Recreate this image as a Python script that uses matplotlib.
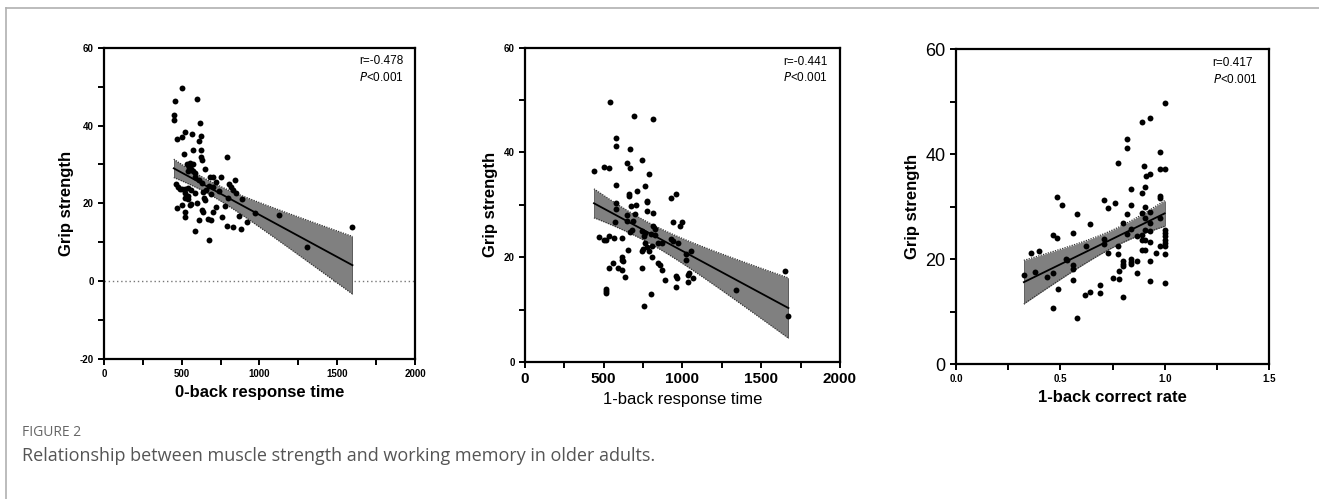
import numpy as np
import matplotlib
matplotlib.use("Agg")
import matplotlib.pyplot as plt
from matplotlib.lines import Line2D
from matplotlib.ticker import MultipleLocator, FormatStrFormatter

plt.rcParams['font.family'] = ['Liberation Sans', 'DejaVu Sans']
plt.rcParams['axes.unicode_minus'] = False

# panel 1: 0-back response time vs grip strength
rt0 = [449, 449, 460, 503, 597, 620, 473, 503, 520, 565, 623, 610, 516, 574, 623, 623,
       631, 537, 554, 571, 546, 561, 543, 575, 588, 652, 584, 614, 631, 682, 699, 751,
       789, 464, 477, 486, 503, 520, 541, 520, 541, 563, 584, 635, 656, 678, 703, 720,
       691, 643, 652, 520, 541, 563, 503, 554, 597, 469, 520, 631, 640, 699, 720, 520,
       610, 671, 688, 584, 674, 760, 777, 799, 820, 833, 846, 850, 888, 871, 789, 833,
       884, 918, 973, 1123, 1303, 1598, 742, 803]
grip0 = [42.8, 41.3, 46.2, 49.7, 46.9, 40.6, 36.5, 37.0, 38.4, 37.9, 37.2, 36.0, 32.6, 33.8,
         33.6, 31.9, 31.2, 30.2, 30.3, 30.2, 29.3, 28.9, 28.3, 28.3, 27.9, 28.9, 26.8, 25.9,
         25.2, 26.8, 26.8, 26.8, 31.9, 24.9, 24.2, 23.6, 23.7, 23.8, 24.0, 22.6, 22.0, 23.5,
         22.6, 22.8, 23.5, 24.5, 24.2, 25.6, 22.3, 21.5, 20.9, 21.5, 21.1, 19.9, 19.7, 19.6,
         20.1, 18.9, 17.9, 18.4, 17.7, 17.7, 19.1, 16.5, 15.6, 16.0, 15.8, 12.9, 10.7, 16.5,
         19.2, 21.3, 24.2, 23.5, 25.9, 22.6, 21.1, 16.7, 14.3, 13.9, 13.4, 15.3, 17.4, 17.0,
         8.8, 13.8, 23.3, 25.0]

# panel 2: 1-back response time vs grip strength
rt1 = [538, 692, 815, 578, 578, 664, 742, 645, 664, 438, 502, 536, 790, 578, 764, 713, 662,
       662, 772, 774, 960, 926, 578, 676, 702, 576, 774, 811, 645, 697, 572, 645, 687, 939,
       999, 986, 666, 679, 740, 764, 811, 823, 798, 826, 755, 470, 502, 512, 534, 564, 615,
       847, 868, 926, 943, 969, 760, 772, 747, 742, 790, 808, 1057, 1021, 1021, 653, 619,
       619, 559, 623, 589, 536, 615, 742, 806, 842, 855, 870, 636, 889, 960, 965, 960, 1033,
       1042, 1038, 1068, 517, 517, 512, 800, 755, 1343, 1648, 1673]
grip1 = [49.7, 46.9, 46.3, 42.8, 41.3, 40.6, 38.5, 38.0, 37.1, 36.4, 37.2, 37.0, 35.9, 33.8,
         33.6, 32.6, 32.0, 31.6, 30.8, 30.5, 32.0, 31.3, 30.4, 29.8, 29.9, 29.2, 28.8, 28.5,
         28.0, 28.2, 26.7, 27.0, 27.0, 26.7, 26.8, 25.9, 24.9, 25.2, 25.0, 24.6, 25.9, 25.4,
         24.5, 24.3, 24.0, 23.8, 23.2, 23.2, 24.0, 23.6, 23.6, 22.8, 22.8, 23.5, 23.1, 22.8,
         22.8, 21.9, 21.5, 21.2, 21.2, 22.1, 21.2, 20.7, 19.4, 21.3, 20.0, 19.4, 18.9, 19.2,
         17.9, 17.9, 17.5, 17.9, 20.0, 18.9, 18.5, 17.5, 16.2, 15.7, 16.4, 16.0, 14.3, 15.2,
         17.0, 16.7, 16.0, 14.0, 13.5, 13.2, 12.9, 10.7, 13.8, 17.4, 8.8]

# panel 3: 1-back correct rate vs grip strength
acc1 = [0.325, 0.357, 0.396, 0.377, 0.438, 0.465, 0.484, 0.467, 0.487, 0.467, 0.486, 0.506,
        0.527, 0.532, 0.559, 0.561, 0.561, 0.561, 0.581, 0.581, 0.621, 0.619, 0.640, 0.640,
        0.689, 0.689, 0.709, 0.710, 0.710, 0.729, 0.729, 0.752, 0.761, 0.777, 0.777, 0.777,
        0.780, 0.780, 0.799, 0.799, 0.799, 0.799, 0.799, 0.818, 0.818, 0.818, 0.818, 0.838,
        0.838, 0.838, 0.838, 0.838, 0.841, 0.866, 0.868, 0.869, 0.889, 0.889, 0.889, 0.889,
        0.889, 0.889, 0.900, 0.908, 0.908, 0.908, 0.908, 0.908, 0.908, 0.911, 0.928, 0.928,
        0.928, 0.928, 0.928, 0.928, 0.928, 0.930, 0.959, 0.979, 0.979, 0.979, 0.979, 0.979,
        0.979, 1.0, 1.0, 1.0, 1.0, 1.0, 1.0, 1.0, 1.0, 1.0, 1.0]
grip2 = [16.9, 21.1, 21.5, 17.5, 16.5, 24.5, 24.1, 17.3, 14.3, 10.6, 31.8, 30.3, 20.0, 19.9,
         24.9, 18.8, 18.2, 16.0, 28.5, 8.7, 22.5, 13.2, 13.8, 26.6, 15.1, 13.6, 31.2, 23.8,
         22.9, 29.7, 21.1, 16.4, 30.7, 38.3, 22.5, 21.0, 17.7, 16.2, 26.8, 19.7, 19.1, 18.7,
         12.7, 42.8, 41.2, 28.5, 24.8, 33.4, 30.3, 25.7, 20.1, 19.4, 19.0, 24.4, 19.7, 17.3,
         46.2, 32.5, 28.8, 24.5, 23.6, 21.7, 37.8, 33.7, 29.9, 27.9, 25.6, 23.6, 21.8, 35.8,
         46.9, 36.3, 29.0, 26.8, 25.4, 23.3, 19.6, 15.8, 21.2, 40.4, 37.1, 32.0, 31.7, 27.9,
         22.5, 49.7, 37.1, 25.6, 25.0, 24.3, 23.7, 23.1, 22.4, 21.0, 15.5]

# regression line ends and half width of the 95% band at those ends
fit_y0 = [29.0, 4.1]
band_hw0 = [2.35, 7.4]
fit_y1 = [30.3, 10.3]
band_hw1 = [2.75, 5.75]
fit_y2 = [15.6, 28.7]
band_hw2 = [4.15, 2.45]

stats = ["r=-0.478", "r=-0.441", "r=0.417"]
xlabels = ["0-back response time", "1-back response time", "1-back correct rate"]


def band(x, fy, hw, n=150):
    # line between the read ends, hyperbolic band centred on the mean of x
    x = np.asarray(x, float)
    x0, x1 = x.min(), x.max()
    xm = x.mean()
    xs = np.linspace(x0, x1, n)
    yf = fy[0] + (fy[1] - fy[0]) * (xs - x0) / (x1 - x0)
    d0, d1 = (x0 - xm) ** 2, (x1 - xm) ** 2
    c1 = (hw[1] ** 2 - hw[0] ** 2) / (d1 - d0)
    c0 = hw[0] ** 2 - c1 * d0
    h = np.sqrt(c0 + c1 * (xs - xm) ** 2)
    return xs, yf, yf - h, yf + h


def draw(ax, x, y, fy, hw, stat):
    xs, yf, lo, hi = band(x, fy, hw)
    ax.fill_between(xs, lo, hi, color='#808080', lw=0, zorder=1)
    ax.plot(xs, lo, color='#333333', lw=0.9, ls=(0, (1, 1)), zorder=2)
    ax.plot(xs, hi, color='#333333', lw=0.9, ls=(0, (1, 1)), zorder=2)
    ax.vlines([xs[0], xs[-1]], [lo[0], lo[-1]], [hi[0], hi[-1]], color='#555555', lw=0.6, zorder=2)
    ax.plot(xs, yf, color='black', lw=1.3, zorder=3)
    ax.scatter(x, y, s=18, color='black', zorder=4, linewidths=0)
    ax.text(0.82, 0.975, stat, transform=ax.transAxes, ha='left', va='top', fontsize=8.5)
    ax.text(0.82, 0.925, "$\\it{P}$<0.001", transform=ax.transAxes, ha='left', va='top', fontsize=8.5)
    for s in ax.spines.values():
        s.set_linewidth(1.6)
    ax.tick_params(which='both', direction='out', width=1.4, length=4)
    ax.set_ylabel("Grip strength", fontsize=12, fontweight='bold')


fig = plt.figure(figsize=(13.19, 4.99), dpi=100)

# outer frame of the figure panel
fig.add_artist(Line2D([0.0045, 1.0], [0.984, 0.984], color='#b0b0b0', lw=1.2))
fig.add_artist(Line2D([0.0045, 0.0045], [0.0, 0.984], color='#b0b0b0', lw=1.2))

ax1 = fig.add_axes([0.0788, 0.2806, 0.2358, 0.6238])
draw(ax1, rt0, grip0, fit_y0, band_hw0, stats[0])
ax1.axhline(0, color='#777777', lw=1, ls=(0, (1, 2)), zorder=0)
ax1.set_xlim(0, 2000)
ax1.set_ylim(-20, 60)
ax1.xaxis.set_major_locator(MultipleLocator(500))
ax1.xaxis.set_minor_locator(MultipleLocator(250))
ax1.yaxis.set_major_locator(MultipleLocator(20))
ax1.yaxis.set_minor_locator(MultipleLocator(10))
for lab in ax1.get_xticklabels() + ax1.get_yticklabels():
    lab.set_fontsize(7)
    lab.set_fontweight('bold')
ax1.set_xlabel(xlabels[0], fontsize=12, fontweight='bold')

ax2 = fig.add_axes([0.398, 0.2745, 0.2388, 0.630])
draw(ax2, rt1, grip1, fit_y1, band_hw1, stats[1])
ax2.set_xlim(0, 2000)
ax2.set_ylim(0, 60)
ax2.xaxis.set_major_locator(MultipleLocator(500))
ax2.xaxis.set_minor_locator(MultipleLocator(250))
ax2.yaxis.set_major_locator(MultipleLocator(20))
ax2.yaxis.set_minor_locator(MultipleLocator(10))
for lab in ax2.get_yticklabels():
    lab.set_fontsize(7)
    lab.set_fontweight('bold')
for lab in ax2.get_xticklabels():
    lab.set_fontsize(11)
    lab.set_fontweight('bold')
ax2.set_xlabel(xlabels[1], fontsize=12)

ax3 = fig.add_axes([0.7248, 0.2705, 0.2373, 0.631])
draw(ax3, acc1, grip2, fit_y2, band_hw2, stats[2])
ax3.set_xlim(0, 1.5)
ax3.set_ylim(0, 60)
ax3.xaxis.set_major_locator(MultipleLocator(0.5))
ax3.xaxis.set_minor_locator(MultipleLocator(0.25))
ax3.yaxis.set_major_locator(MultipleLocator(20))
ax3.yaxis.set_minor_locator(MultipleLocator(10))
ax3.xaxis.set_major_formatter(FormatStrFormatter('%.1f'))
for lab in ax3.get_xticklabels():
    lab.set_fontsize(7)
    lab.set_fontweight('bold')
for lab in ax3.get_yticklabels():
    lab.set_fontsize(13)
ax3.set_xlabel(xlabels[2], fontsize=12, fontweight='bold')

fig.text(0.017, 0.133, "FIGURE 2", fontsize=10, color='#666666', family=['Open Sans', 'DejaVu Sans'], va='center')
fig.text(0.017, 0.087, "Relationship between muscle strength and working memory in older adults.",
         fontsize=13, color='#555555', family=['Open Sans', 'DejaVu Sans'], va='center')

fig.savefig("out.png", dpi=100)
